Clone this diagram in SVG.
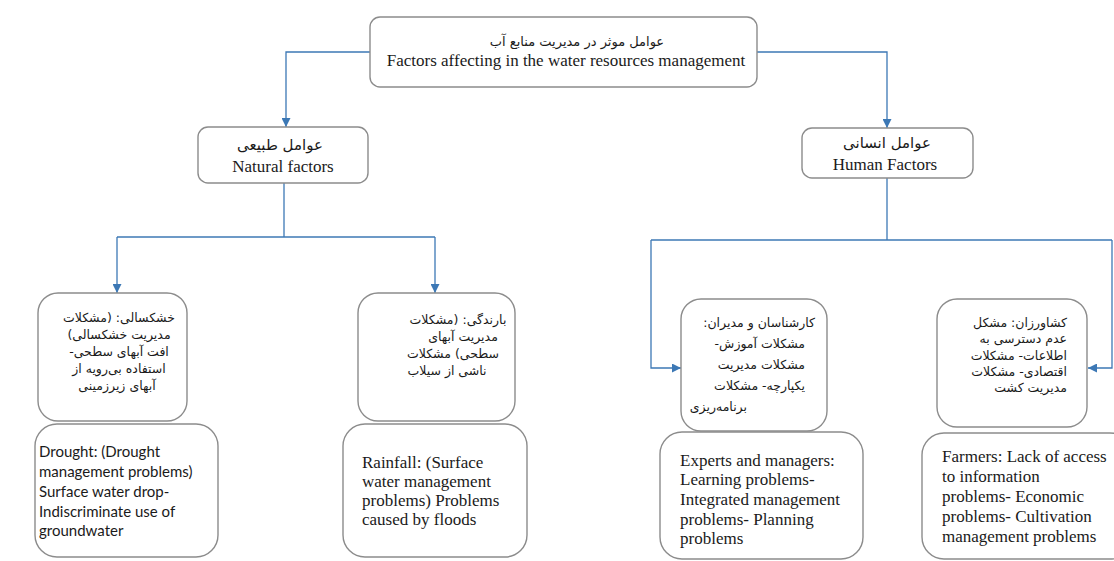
<svg xmlns="http://www.w3.org/2000/svg" width="1114" height="561" viewBox="0 0 1114 561">
<defs>
<marker id="arr" viewBox="0 0 10 10" refX="10" refY="5" markerWidth="9" markerHeight="9" markerUnits="userSpaceOnUse" orient="auto">
<path d="M0,0 L10,5 L0,10 z" fill="#3c78b5"/>
</marker>
<style>
.box{fill:#fff;stroke:#8c8c8c;stroke-width:1.4}
.en{font-family:"Liberation Serif",serif;font-size:17px;fill:#1a1a1a}
.cal{font-family:Lato,"Liberation Sans",sans-serif;font-size:15px;fill:#1a1a1a}
.fa{font-family:"DejaVu Sans",sans-serif;font-size:12.5px;fill:#1a1a1a;direction:rtl}
.con{fill:none;stroke:#3c78b5;stroke-width:1.3}
</style>
</defs>
<rect width="1114" height="561" fill="#fff"/>
<g id="connectors">
<path class="con" d="M370,52 H286 V127" marker-end="url(#arr)"/>
<path class="con" d="M757,52 H887 V128" marker-end="url(#arr)"/>
<path class="con" d="M284,183 V237"/>
<path class="con" d="M117,237 H435"/>
<path class="con" d="M117,237 V293" marker-end="url(#arr)"/>
<path class="con" d="M435,237 V293" marker-end="url(#arr)"/>
<path class="con" d="M887,178 V240"/>
<path class="con" d="M651,240 H1112"/>
<path class="con" d="M651,240 V368 H681" marker-end="url(#arr)"/>
<path class="con" d="M1112,240 V368 H1088" marker-end="url(#arr)"/>
</g>
<g id="root">
<rect class="box" x="370" y="17" width="387" height="70" rx="10"/>
<text class="fa" x="577" y="46" text-anchor="middle" style="font-size:13px">عوامل موثر در مدیریت منابع آب</text>
<text class="en" x="566" y="66" text-anchor="middle">Factors affecting in the water resources management</text>
</g>
<g id="natural">
<rect class="box" x="198" y="127" width="170" height="56" rx="10"/>
<text class="fa" x="280" y="150" text-anchor="middle" style="font-size:15px">عوامل طبیعی</text>
<text class="en" x="283" y="172" text-anchor="middle">Natural factors</text>
</g>
<g id="human">
<rect class="box" x="802" y="128" width="171" height="50" rx="10"/>
<text class="fa" x="887" y="148" text-anchor="middle" style="font-size:15px">عوامل انسانی</text>
<text class="en" x="885" y="170" text-anchor="middle">Human Factors</text>
</g>
<g id="drought-fa">
<rect class="box" x="38" y="293" width="149" height="128" rx="20"/>
<text class="fa" text-anchor="middle">
<tspan x="117" y="322">خشکسالی: (مشکلات</tspan>
<tspan x="117" y="339">مدیریت خشکسالی)</tspan>
<tspan x="117" y="356">افت آبهای سطحی-</tspan>
<tspan x="117" y="373">استفاده بی‌رویه از</tspan>
<tspan x="117" y="390">آبهای زیرزمینی</tspan>
</text>
</g>
<g id="rainfall-fa">
<rect class="box" x="358" y="293" width="157" height="128" rx="20"/>
<text class="fa" text-anchor="middle">
<tspan x="456" y="324">بارندگی: (مشکلات</tspan>
<tspan x="461" y="341">مدیریت آبهای</tspan>
<tspan x="451" y="358">سطحی) مشکلات</tspan>
<tspan x="447" y="375">ناشی از سیلاب</tspan>
</text>
</g>
<g id="drought-en">
<rect class="box" x="35" y="424" width="183" height="133" rx="22"/>
<text class="cal">
<tspan x="39" y="457">Drought: (Drought</tspan>
<tspan x="39" y="477">management problems)</tspan>
<tspan x="39" y="497">Surface water drop-</tspan>
<tspan x="39" y="517">Indiscriminate use of</tspan>
<tspan x="39" y="536">groundwater</tspan>
</text>
</g>
<g id="rainfall-en">
<rect class="box" x="343" y="424" width="184" height="133" rx="22"/>
<text class="en">
<tspan x="362" y="468">Rainfall: (Surface</tspan>
<tspan x="362" y="487">water management</tspan>
<tspan x="362" y="506">problems) Problems</tspan>
<tspan x="362" y="525">caused by floods</tspan>
</text>
</g>
<g id="experts-fa">
<rect class="box" x="681" y="299" width="146" height="132" rx="20"/>
<text class="fa" text-anchor="start">
<tspan x="815" y="327">کارشناسان و مدیران:</tspan>
<tspan x="805" y="348">مشکلات آموزش-</tspan>
<tspan x="805" y="369">مشکلات مدیریت</tspan>
<tspan x="805" y="390">یکپارچه- مشکلات</tspan>
<tspan x="747" y="411">برنامه‌ریزی</tspan>
</text>
</g>
<g id="farmers-fa">
<rect class="box" x="937" y="299" width="150" height="128" rx="20"/>
<text class="fa" text-anchor="start">
<tspan x="1067" y="327">کشاورزان: مشکل</tspan>
<tspan x="1067" y="343">عدم دسترسی به</tspan>
<tspan x="1067" y="360">اطلاعات- مشکلات</tspan>
<tspan x="1067" y="376">اقتصادی- مشکلات</tspan>
<tspan x="1067" y="392">مدیریت کشت</tspan>
</text>
</g>
<g id="experts-en">
<rect class="box" x="660" y="432" width="203" height="127" rx="22"/>
<text class="en">
<tspan x="680" y="466">Experts and managers:</tspan>
<tspan x="680" y="485">Learning problems-</tspan>
<tspan x="680" y="505">Integrated management</tspan>
<tspan x="680" y="525">problems- Planning</tspan>
<tspan x="680" y="544">problems</tspan>
</text>
</g>
<g id="farmers-en">
<rect class="box" x="922" y="433" width="210" height="126" rx="22"/>
<text class="en">
<tspan x="942" y="462">Farmers: Lack of access</tspan>
<tspan x="942" y="482">to information</tspan>
<tspan x="942" y="502">problems- Economic</tspan>
<tspan x="942" y="522">problems- Cultivation</tspan>
<tspan x="942" y="542">management problems</tspan>
</text>
</g>
</svg>
